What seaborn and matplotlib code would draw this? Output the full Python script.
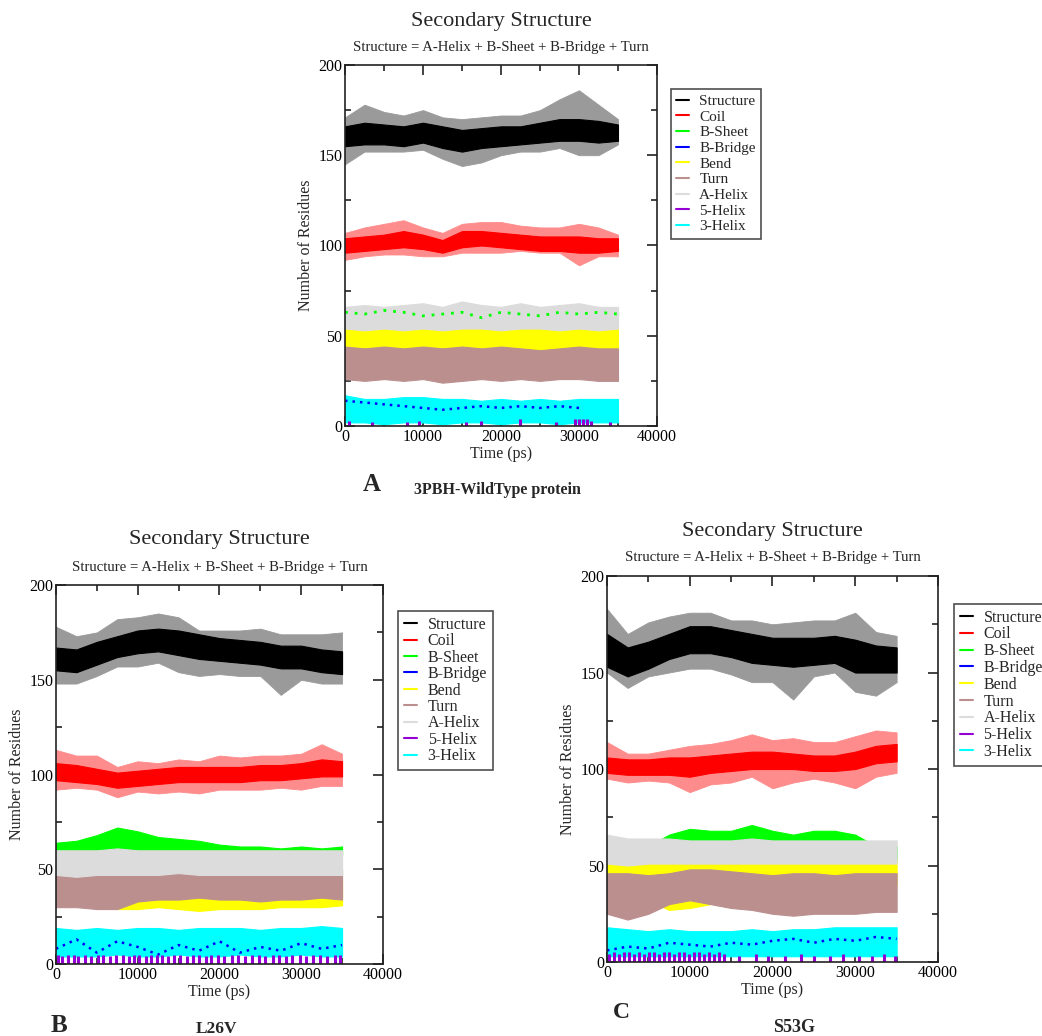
import matplotlib
matplotlib.use("Agg")
import matplotlib.pyplot as plt
from matplotlib.lines import Line2D
from matplotlib.ticker import MultipleLocator
import seaborn as sns
import pandas as pd

# ---------------- data ----------------
T = [0, 2500, 5000, 7500, 10000, 12500, 15000, 17500, 20000, 22500, 25000, 27500, 30000, 32500, 35000]

# Panel A: 3PBH wild type  (core = dense part of the trace, outer = spike extremes)
A_STRUCT_OUT_HI = [171, 178, 174, 172, 175, 171, 170, 171, 172, 172, 175, 181, 186, 178, 170]
A_STRUCT_OUT_LO = [145, 152, 152, 152, 153, 148, 144, 146, 150, 152, 152, 154, 150, 150, 156]
A_STRUCT_HI = [166, 168, 167, 166, 168, 166, 164, 165, 166, 166, 168, 170, 170, 169, 167]
A_STRUCT_LO = [155, 156, 156, 155, 157, 154, 152, 154, 155, 156, 157, 158, 158, 157, 158]
A_COIL_OUT_HI = [107, 110, 112, 114, 110, 107, 112, 113, 113, 111, 110, 110, 112, 110, 106]
A_COIL_OUT_LO = [92, 94, 95, 95, 94, 94, 96, 96, 96, 97, 96, 96, 89, 94, 94]
A_COIL_HI = [104, 105, 106, 108, 106, 103, 108, 108, 107, 106, 105, 105, 105, 104, 104]
A_COIL_LO = [96, 97, 98, 99, 98, 96, 99, 100, 99, 98, 97, 97, 96, 96, 97]
A_SHEET_HI = [64, 63, 64, 64, 63, 63, 64, 63, 64, 63, 63, 64, 63, 64, 63]
A_SHEET_LO = [58, 58, 58, 58, 58, 58, 58, 58, 58, 58, 58, 58, 58, 58, 58]
A_SHEET_DOTS = [63, 62, 64, 63, 61, 62, 63, 60, 63, 62, 61, 63, 62, 63, 62]
A_HELIX_HI = [66, 67, 66, 67, 68, 66, 69, 67, 66, 68, 66, 67, 68, 66, 66]
A_HELIX_LO = [54, 53, 54, 53, 54, 53, 54, 54, 53, 54, 54, 53, 54, 53, 54]
A_BEND_HI = [56, 55, 56, 55, 56, 55, 57, 56, 55, 56, 55, 55, 56, 55, 56]
A_BEND_LO = [41, 40, 41, 41, 40, 41, 41, 40, 41, 41, 40, 41, 41, 40, 41]
A_TURN_HI = [44, 43, 44, 43, 44, 43, 44, 43, 44, 43, 42, 43, 44, 43, 43]
A_TURN_LO = [26, 25, 26, 25, 26, 24, 25, 26, 25, 26, 25, 26, 26, 25, 25]
A_3HELIX_HI = [17, 15, 15, 16, 16, 15, 15, 14, 15, 14, 15, 14, 15, 15, 15]
A_3HELIX_LO = [2, 2, 1, 2, 2, 1, 2, 2, 1, 2, 2, 1, 2, 2, 2]
A_BRIDGE = [14, None, None, None, None, 9, 10, 11, 10, 11, 10, 11, 10, None, None]
A_5HELIX_X = [500, 3500, 8000, 9500, 15500, 17500, 22500, 27000, 29500, 30000, 30500, 31000, 31500, 34000]
A_5HELIX_H = [3, 2, 2, 3, 2, 3, 4, 2, 4, 4, 4, 4, 3, 2]

# Panel B: L26V
B_STRUCT_OUT_HI = [178, 173, 175, 182, 183, 185, 183, 176, 176, 176, 177, 174, 174, 174, 175]
B_STRUCT_OUT_LO = [148, 148, 152, 157, 157, 159, 154, 152, 153, 152, 152, 142, 150, 148, 148]
B_STRUCT_HI = [167, 166, 170, 173, 176, 177, 176, 174, 172, 171, 170, 168, 168, 166, 165]
B_STRUCT_LO = [155, 154, 158, 162, 164, 165, 163, 161, 160, 159, 158, 156, 156, 154, 153]
B_COIL_OUT_HI = [113, 110, 110, 104, 107, 106, 108, 107, 110, 109, 110, 110, 111, 116, 111]
B_COIL_OUT_LO = [92, 93, 92, 88, 91, 90, 91, 90, 92, 92, 92, 93, 92, 94, 94]
B_COIL_HI = [106, 105, 103, 101, 102, 103, 104, 104, 104, 104, 105, 105, 106, 108, 107]
B_COIL_LO = [97, 96, 95, 93, 94, 95, 96, 96, 96, 96, 97, 97, 98, 99, 99]
B_SHEET_HI = [64, 65, 68, 72, 70, 67, 66, 65, 63, 62, 62, 61, 62, 61, 62]
B_SHEET_LO = [56, 56, 57, 58, 58, 58, 57, 57, 57, 57, 57, 57, 57, 57, 57]
B_HELIX_HI = [60, 60, 60, 61, 60, 60, 60, 60, 60, 60, 60, 60, 60, 60, 60]
B_HELIX_LO = [47, 46, 47, 47, 47, 47, 48, 47, 47, 47, 47, 47, 47, 47, 47]
B_BEND_HI = [50, 47, 45, 44, 44, 44, 44, 44, 43, 43, 43, 44, 44, 44, 44]
B_BEND_LO = [35, 33, 31, 29, 29, 30, 29, 28, 29, 29, 29, 30, 30, 30, 31]
B_TURN_HI = [47, 49, 50, 50, 50, 50, 50, 50, 50, 50, 50, 50, 50, 50, 50]
B_TURN_LO = [30, 30, 29, 29, 33, 34, 34, 35, 34, 34, 33, 34, 34, 35, 34]
B_3HELIX_HI = [19, 18, 19, 18, 19, 19, 18, 19, 19, 19, 18, 19, 19, 20, 19]
B_3HELIX_LO = [4, 4, 4, 5, 4, 4, 5, 4, 4, 5, 4, 4, 5, 4, 4]
B_BRIDGE = [8, 13, 6, 12, 9, 5, 10, 7, 12, 6, 9, 7, 11, 8, 10]
B_5HELIX_X = [300, 800, 1500, 2200, 2700, 3500, 4300, 5200, 5800, 6600, 7400, 8200, 8900, 9500,
              10200, 11000, 11600, 12300, 13000, 13700, 14400, 15200, 16000, 16800, 17500, 18300,
              19000, 19800, 20600, 21500, 22300, 23100, 24000, 24800, 25600, 26500, 27300, 28100,
              28900, 29800, 30600, 31400, 32300, 33200, 34100, 34800]
B_5HELIX_H = [5, 4, 5, 5, 4, 5, 4, 5, 5, 4, 5, 5, 4, 5, 5, 4, 5, 5, 5, 4, 5, 5, 4, 5, 5, 4,
              5, 5, 4, 5, 5, 4, 5, 5, 4, 5, 5, 4, 5, 5, 4, 5, 5, 4, 5, 5]

# Panel C: S53G
C_STRUCT_OUT_HI = [183, 170, 176, 179, 181, 181, 177, 177, 175, 176, 177, 177, 181, 171, 169]
C_STRUCT_OUT_LO = [150, 142, 148, 150, 152, 152, 149, 145, 145, 136, 148, 150, 140, 138, 145]
C_STRUCT_HI = [170, 163, 166, 170, 174, 174, 172, 170, 168, 168, 168, 169, 167, 164, 163]
C_STRUCT_LO = [153, 148, 152, 157, 160, 160, 158, 155, 154, 153, 154, 155, 150, 150, 150]
C_COIL_OUT_HI = [114, 108, 108, 110, 112, 113, 115, 118, 115, 116, 114, 114, 117, 120, 119]
C_COIL_OUT_LO = [95, 93, 94, 93, 88, 92, 93, 96, 90, 93, 95, 93, 90, 96, 98]
C_COIL_HI = [106, 105, 105, 106, 106, 107, 108, 109, 109, 108, 107, 107, 109, 112, 113]
C_COIL_LO = [98, 97, 97, 97, 96, 98, 99, 100, 100, 100, 99, 99, 100, 103, 104]
C_SHEET_HI = [56, 54, 60, 66, 69, 68, 68, 71, 68, 66, 68, 68, 66, 60, 60]
C_SHEET_LO = [52, 52, 55, 58, 58, 58, 58, 58, 58, 58, 58, 58, 58, 55, 52]
C_HELIX_HI = [66, 64, 64, 64, 63, 63, 63, 64, 63, 63, 63, 63, 63, 63, 63]
C_HELIX_LO = [51, 50, 51, 51, 51, 51, 51, 51, 51, 51, 51, 51, 51, 51, 51]
C_BEND_HI = [54, 54, 53, 51, 52, 52, 52, 53, 53, 52, 53, 52, 52, 53, 53]
C_BEND_LO = [42, 40, 32, 27, 28, 30, 36, 40, 40, 40, 40, 40, 40, 40, 40]
C_TURN_HI = [46, 46, 45, 46, 48, 48, 47, 46, 45, 46, 46, 45, 46, 46, 46]
C_TURN_LO = [25, 22, 25, 30, 32, 30, 28, 27, 25, 24, 25, 25, 25, 26, 26]
C_3HELIX_HI = [18, 17, 16, 17, 16, 16, 16, 17, 16, 17, 17, 18, 18, 18, 18]
C_3HELIX_LO = [3, 3, 3, 3, 3, 3, 3, 3, 3, 3, 3, 3, 3, 3, 3]
C_BRIDGE = [6, 8, 7, 10, 9, 8, 10, 9, 11, 12, 10, 12, 11, 13, 12]
C_5HELIX_X = [300, 900, 1500, 2100, 2700, 3300, 3900, 4500, 5100, 5700, 6300, 6900, 7500, 8100,
              8700, 9300, 9900, 10500, 11100, 11700, 12300, 12900, 13500, 14100, 16000, 18000,
              19500, 21500, 23500, 25000, 27000, 28500, 30500, 32000, 33500, 34800]
C_5HELIX_H = [4, 5, 4, 5, 5, 4, 5, 4, 5, 5, 4, 5, 5, 4, 5, 5, 4, 5, 5, 4, 5, 4, 5, 4,
              3, 4, 3, 3, 4, 3, 3, 4, 3, 3, 4, 3]

SERIES = ["Structure", "Coil", "B-Sheet", "B-Bridge", "Bend", "Turn", "A-Helix", "5-Helix", "3-Helix"]
COLORS = ["#000000", "#ff0000", "#00ff00", "#0000ff", "#ffff00", "#bc8f8f", "#dcdcdc", "#9400d3", "#00ffff"]
SPIKE_COLORS = {"Structure": "#9a9a9a", "Coil": "#ff8c8c"}
TITLE = "Secondary Structure"
SUBTITLE = "Structure = A-Helix + B-Sheet + B-Bridge + Turn"
PANEL_LETTERS = ["A", "B", "C"]
PANEL_NAMES = ["3PBH-WildType protein", "L26V", "S53G"]

# ---------------- style ----------------
sns.set_theme(style="ticks")
plt.rcParams["font.family"] = ["Liberation Serif", "DejaVu Serif"]
plt.rcParams["axes.edgecolor"] = "#222222"
plt.rcParams["axes.linewidth"] = 1.2

col = dict(zip(SERIES, COLORS))

fig = plt.figure(figsize=(10.42, 10.36), dpi=100)

axes_rects = [
    [0.3311, 0.5888, 0.2994, 0.3485],
    [0.0537, 0.0695, 0.3138, 0.3658],
    [0.5825, 0.0714, 0.3177, 0.3726],
]
legend_anchor = [(0.6440, 0.9141), (0.3820, 0.4102), (0.9155, 0.4170)]
legend_font = [11, 11.5, 11.5]
legend_spacing = [0.13, 0.03, 0.05]
title_y = [(0.9788, 0.9546), (0.4788, 0.4527), (0.4865, 0.4614)]
letter_pos = [(0.357, 0.532), (0.057, 0.0106), (0.596, 0.0227)]
letter_size = [18, 18, 17]
name_pos = [(0.477, 0.527), (0.208, 0.0070), (0.762, 0.0080)]
name_size = [11.5, 12.5, 13]

panels = [
    dict(struct_out=(A_STRUCT_OUT_LO, A_STRUCT_OUT_HI), struct=(A_STRUCT_LO, A_STRUCT_HI),
         coil_out=(A_COIL_OUT_LO, A_COIL_OUT_HI), coil=(A_COIL_LO, A_COIL_HI),
         sheet=(A_SHEET_LO, A_SHEET_HI), helix=(A_HELIX_LO, A_HELIX_HI), bend=(A_BEND_LO, A_BEND_HI),
         turn=(A_TURN_LO, A_TURN_HI), h3=(A_3HELIX_LO, A_3HELIX_HI), bridge=A_BRIDGE,
         h5=(A_5HELIX_X, A_5HELIX_H), dots=A_SHEET_DOTS),
    dict(struct_out=(B_STRUCT_OUT_LO, B_STRUCT_OUT_HI), struct=(B_STRUCT_LO, B_STRUCT_HI),
         coil_out=(B_COIL_OUT_LO, B_COIL_OUT_HI), coil=(B_COIL_LO, B_COIL_HI),
         sheet=(B_SHEET_LO, B_SHEET_HI), helix=(B_HELIX_LO, B_HELIX_HI), bend=(B_BEND_LO, B_BEND_HI),
         turn=(B_TURN_LO, B_TURN_HI), h3=(B_3HELIX_LO, B_3HELIX_HI), bridge=B_BRIDGE,
         h5=(B_5HELIX_X, B_5HELIX_H), dots=None),
    dict(struct_out=(C_STRUCT_OUT_LO, C_STRUCT_OUT_HI), struct=(C_STRUCT_LO, C_STRUCT_HI),
         coil_out=(C_COIL_OUT_LO, C_COIL_OUT_HI), coil=(C_COIL_LO, C_COIL_HI),
         sheet=(C_SHEET_LO, C_SHEET_HI), helix=(C_HELIX_LO, C_HELIX_HI), bend=(C_BEND_LO, C_BEND_HI),
         turn=(C_TURN_LO, C_TURN_HI), h3=(C_3HELIX_LO, C_3HELIX_HI), bridge=C_BRIDGE,
         h5=(C_5HELIX_X, C_5HELIX_H), dots=None),
]

for i, p in enumerate(panels):
    ax = fig.add_axes(axes_rects[i])
    # spike envelopes (lighter) then dense cores
    for key, name in [("struct_out", "Structure"), ("coil_out", "Coil")]:
        lo, hi = p[key]
        ax.fill_between(T, lo, hi, color=SPIKE_COLORS[name], lw=0.6, edgecolor=SPIKE_COLORS[name])
    # bands in the drawing order of the original program
    for key, name in [("struct", "Structure"), ("coil", "Coil"), ("sheet", "B-Sheet"),
                      ("bend", "Bend"), ("turn", "Turn"), ("helix", "A-Helix"), ("h3", "3-Helix")]:
        lo, hi = p[key]
        ax.fill_between(T, lo, hi, color=col[name], lw=0.8, edgecolor=col[name])
    if p["dots"] is not None:
        sns.lineplot(x=T, y=p["dots"], ax=ax, color=col["B-Sheet"], lw=2.0,
                     linestyle=(0, (1, 2.5)), legend=False)
    bdf = pd.DataFrame({"t": T, "v": p["bridge"]}).dropna()
    sns.lineplot(data=bdf, x="t", y="v", ax=ax, color=col["B-Bridge"], lw=1.8,
                 linestyle=(0, (1, 2)), legend=False)
    hx, hh = p["h5"]
    ax.vlines(hx, 0, hh, color=col["5-Helix"], lw=2.2)

    ax.set_xlim(0, 40000)
    ax.set_ylim(0, 200)
    ax.xaxis.set_major_locator(MultipleLocator(10000))
    ax.xaxis.set_minor_locator(MultipleLocator(5000))
    ax.yaxis.set_major_locator(MultipleLocator(50))
    ax.yaxis.set_minor_locator(MultipleLocator(25))
    ax.tick_params(which="both", direction="in", top=True, right=True, colors="#222222",
                   labelcolor="black", labelsize=11.5, pad=2)
    ax.tick_params(which="major", length=7, width=1.2)
    ax.tick_params(which="minor", length=4, width=1.2)
    ax.set_xlabel("Time (ps)", fontsize=11.5, labelpad=1)
    ax.set_ylabel("Number of Residues", fontsize=11.5, labelpad=3)

    handles = [Line2D([0], [0], color=c, lw=1.5) for c in COLORS]
    leg = ax.legend(handles, SERIES, loc="upper left", bbox_to_anchor=legend_anchor[i],
                    bbox_transform=fig.transFigure, frameon=True, fancybox=False,
                    fontsize=legend_font[i], handlelength=0.85, handletextpad=0.65,
                    borderpad=0.35, labelspacing=legend_spacing[i], borderaxespad=0)
    leg.get_frame().set_edgecolor("#222222")
    leg.get_frame().set_linewidth(1.2)

    cx = axes_rects[i][0] + axes_rects[i][2] / 2
    fig.text(cx, title_y[i][0], TITLE, ha="center", va="center", fontsize=16)
    fig.text(cx, title_y[i][1], SUBTITLE, ha="center", va="center", fontsize=10.6)
    fig.text(letter_pos[i][0], letter_pos[i][1], PANEL_LETTERS[i], ha="center", va="center",
             fontsize=letter_size[i], fontweight="bold")
    fig.text(name_pos[i][0], name_pos[i][1], PANEL_NAMES[i], ha="center", va="center",
             fontsize=name_size[i], fontweight="bold")

fig.savefig("out.png", dpi=100, facecolor="white")
